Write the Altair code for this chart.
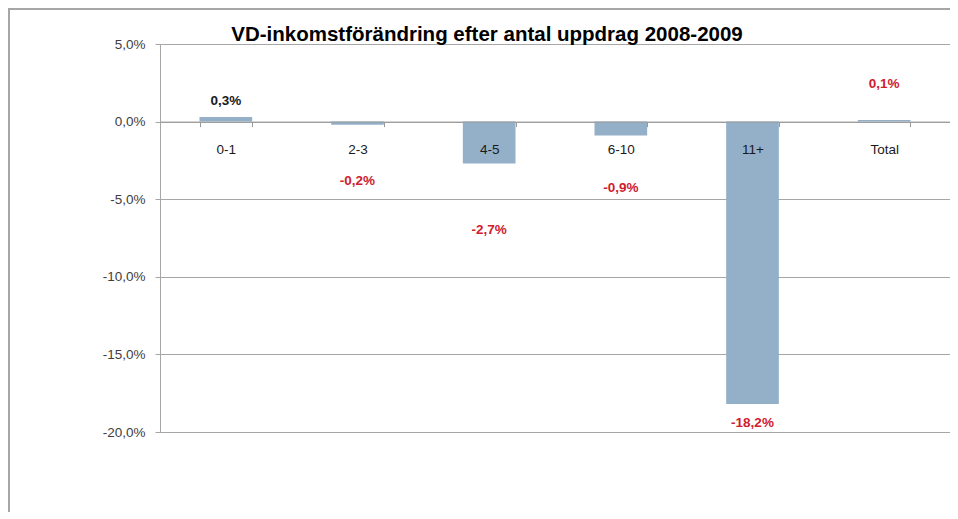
import altair as alt
import pandas as pd

categories = ["0-1", "2-3", "4-5", "6-10", "11+", "Total"]
values = [0.3, -0.2, -2.7, -0.9, -18.2, 0.1]
label_pos = [1.35, -3.8, -7.0, -4.25, -19.4, 2.4]
title_text = "VD-inkomstförändring efter antal uppdrag 2008-2009"

df = pd.DataFrame({"cat": categories, "val": values, "lab": label_pos})

W, H = 790, 388
FONT = "Liberation Sans"

fmt = "replace(replace(format({v}, '.1f'), '.', ','), '\u2212', '-') + '%'"

x_enc = alt.X(
    "cat:N", sort=categories, title=None,
    scale=alt.Scale(paddingInner=0.6, paddingOuter=0.3),
    axis=alt.Axis(
        orient="bottom", offset=-(H - 77.6), labelAngle=0, tickBand="extent",
        tickSize=5, tickColor="#999999", domainColor="#999999",
        labelPadding=16, labelFont=FONT, labelFontSize=13.5, labelColor="#1a1a1a",
        grid=False, zindex=1,
    ),
)
y_scale = alt.Scale(domain=[-20, 5], nice=False)

bars = alt.Chart(df).mark_bar(color="#93b0c8").encode(
    x=x_enc,
    y=alt.Y(
        "val:Q", scale=y_scale, title=None,
        axis=alt.Axis(
            values=[5, 0, -5, -10, -15, -20], labelExpr=fmt.format(v="datum.value"),
            grid=True, gridColor="#a6a6a6", domainColor="#a6a6a6", tickColor="#a6a6a6",
            tickSize=5, labelPadding=10, labelFont=FONT, labelFontSize=13.5,
            labelColor="#404040",
        ),
    ),
)

labels = alt.Chart(df).transform_calculate(
    txt=fmt.format(v="datum.val")
).mark_text(font=FONT, fontSize=13.5, fontWeight="bold").encode(
    x=alt.X("cat:N", sort=categories),
    y=alt.Y("lab:Q", scale=y_scale),
    text="txt:N",
    color=alt.condition(alt.datum.cat == "0-1", alt.value("#1a1a1a"), alt.value("#d0202e")),
)

one = pd.DataFrame({"a": [0]})
title = alt.Chart(one).mark_text(
    font=FONT, fontSize=20.5, fontWeight="bold", color="#000000", baseline="alphabetic"
).encode(x=alt.value(327), y=alt.value(-3), text=alt.value(title_text))

frame_left = alt.Chart(one).mark_rule(color="#a6a6a6", strokeWidth=2).encode(
    x=alt.value(-151), y=alt.value(-36), y2=alt.value(H + 80)
)
frame_top = alt.Chart(one).mark_rule(color="#a6a6a6", strokeWidth=2).encode(
    x=alt.value(-152), x2=alt.value(W + 10), y=alt.value(-35)
)

chart = alt.layer(frame_left, frame_top, bars, labels, title).properties(
    width=W, height=H,
    autosize=alt.AutoSizeParams(type="none"),
    padding={"left": 152, "top": 36, "right": 0, "bottom": 80},
).configure_view(stroke=None).configure(background="white")

chart.save("out.html", embed_options={"renderer": "svg", "actions": False})
